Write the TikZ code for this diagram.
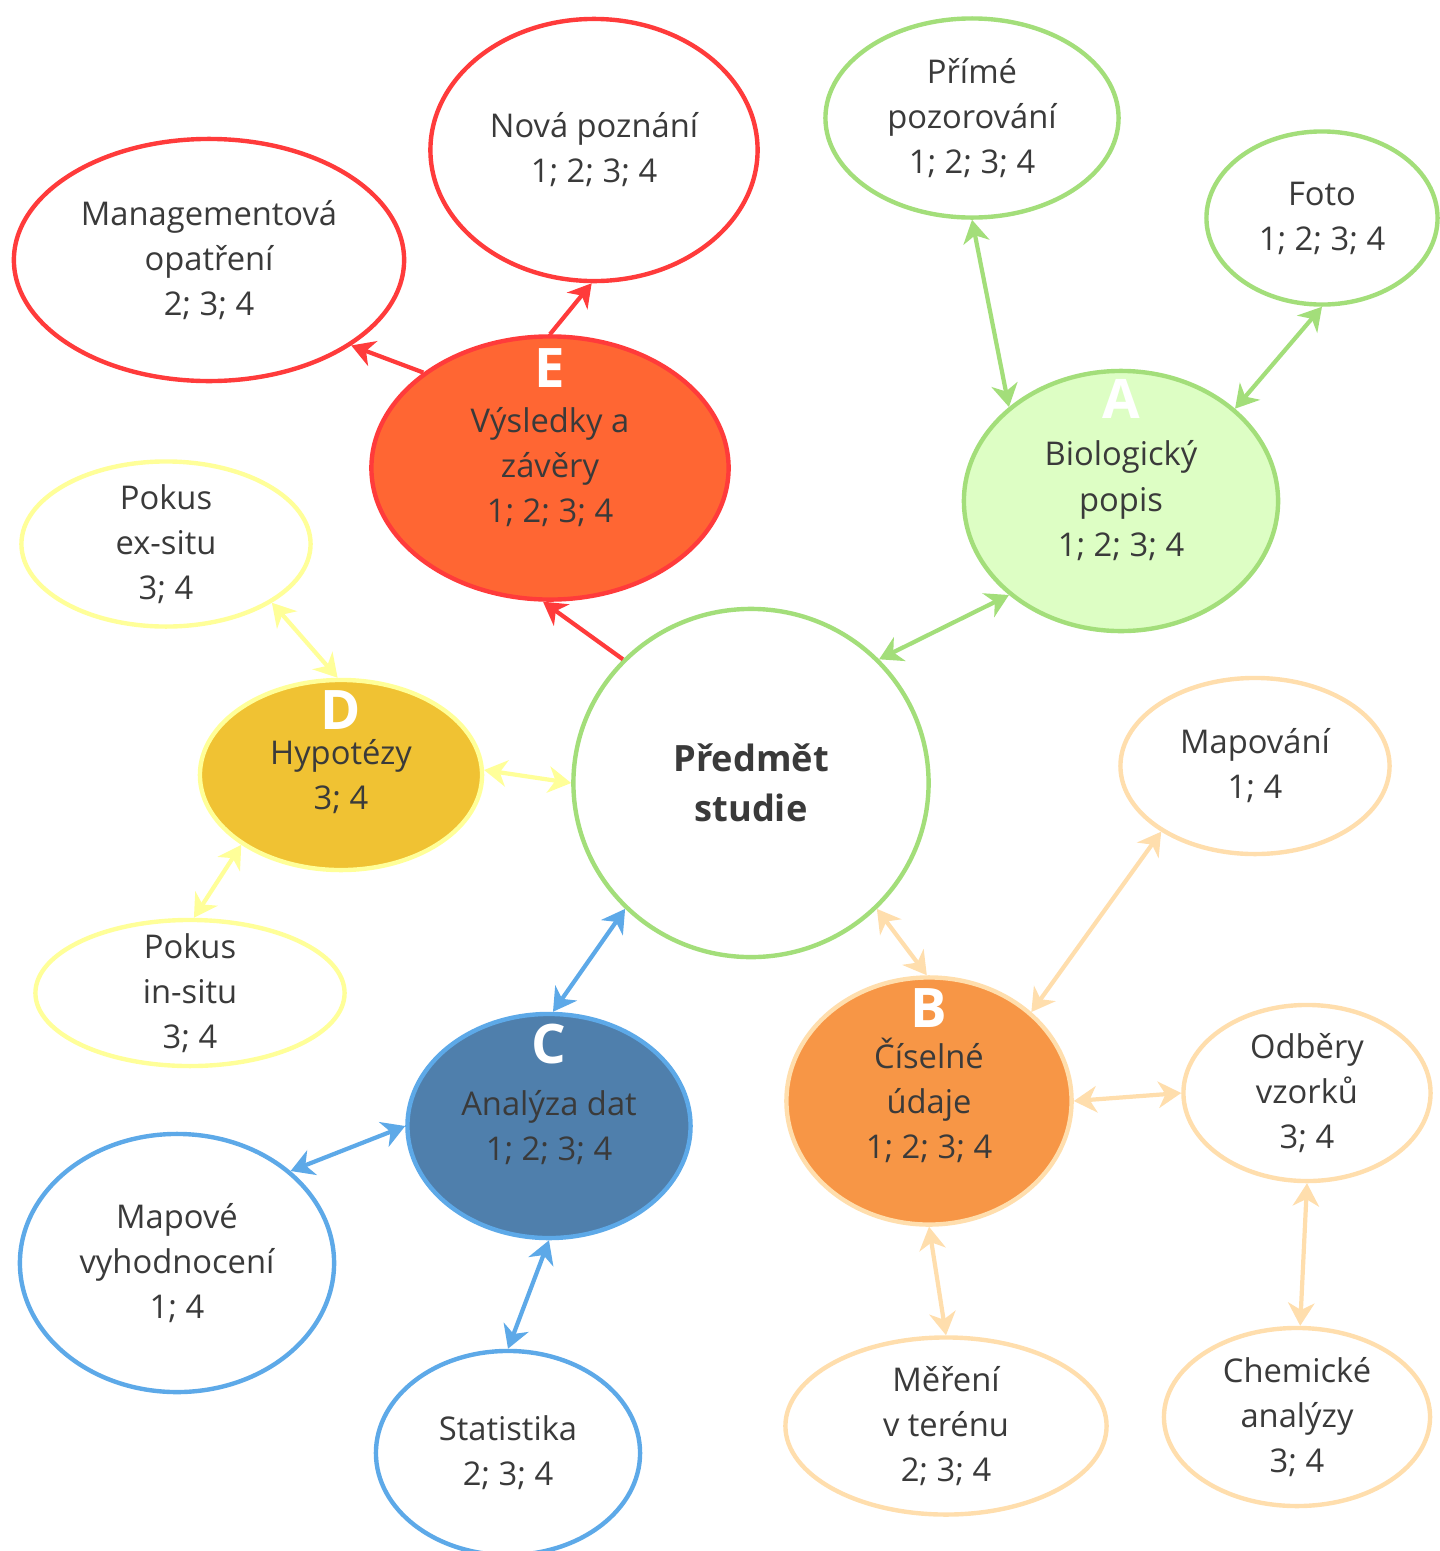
\documentclass[tikz,border=0pt]{standalone}
\usepackage{fontspec}
\setmainfont{Open Sans}
\usetikzlibrary{shapes.geometric,arrows.meta}

\definecolor{redline}{HTML}{FF3B3B}
\definecolor{redfill}{HTML}{FF6633}
\definecolor{greenline}{HTML}{A3DE7A}
\definecolor{greenfill}{HTML}{DDFEC4}
\definecolor{yellowline}{HTML}{FFFF99}
\definecolor{yellowfill}{HTML}{F0C233}
\definecolor{blueline}{HTML}{5DA9E8}
\definecolor{bluefill}{HTML}{4F7FAC}
\definecolor{peachline}{HTML}{FFDEAD}
\definecolor{peachfill}{HTML}{F79646}
\definecolor{textgrey}{HTML}{3A3A3A}

\newcommand{\bigletter}[1]{{\fontsize{15.5}{16}\selectfont\bfseries\color{white}#1}}

\tikzset{
  bubble/.style={ellipse, draw, line width=1.25pt, fill=white, inner sep=-30pt,
    align=center, text=textgrey, font=\fontsize{9.3}{12.8}\selectfont},
  lettertext/.style={inner sep=0pt, align=center, text=textgrey,
    font=\fontsize{9.3}{12.8}\selectfont},
  link/.style={line width=1.2pt},
}

\begin{document}
\begin{tikzpicture}[x=0.01cm, y=-0.01cm, >={Stealth[length=6.5pt,width=7.5pt,inset=2pt]}]
\useasboundingbox (0,0) rectangle (1440,1551);

% centre
\node[bubble, draw=greenline, minimum width=3.55cm, minimum height=3.48cm,
  font=\fontsize{10.3}{14.2}\selectfont\bfseries] (predmet) at (751,783) {Předmět\\studie};

% E
\node[bubble, draw=redline, fill=redfill, minimum width=3.57cm, minimum height=2.63cm] (vysledky) at (550,468) {};
\node[lettertext] (vysledkyT) at (550,438) {\bigletter{E}\\Výsledky a\\závěry\\1; 2; 3; 4};
\node[bubble, draw=redline, minimum width=3.27cm, minimum height=2.62cm] (novapoz) at (594,150) {Nová poznání\\1; 2; 3; 4};
\node[bubble, draw=redline, minimum width=3.90cm, minimum height=2.42cm] (management) at (209,260) {Managementová\\opatření\\2; 3; 4};

% A
\node[bubble, draw=greenline, fill=greenfill, minimum width=3.14cm, minimum height=2.60cm] (biolog) at (1121,501) {};
\node[lettertext] (biologT) at (1121,470) {\bigletter{A}\\[0.6pt]Biologický\\popis\\1; 2; 3; 4};
\node[bubble, draw=greenline, minimum width=2.93cm, minimum height=1.99cm] (prime) at (972,118) {Přímé\\pozorování\\1; 2; 3; 4};
\node[bubble, draw=greenline, minimum width=2.31cm, minimum height=1.73cm] (foto) at (1322,218) {Foto\\1; 2; 3; 4};

% D
\node[bubble, draw=yellowline, fill=yellowfill, minimum width=2.82cm, minimum height=1.90cm] (hypot) at (341,775) {};
\node[lettertext] (hypotT) at (341,752) {\bigletter{D}\\[-2.8pt]Hypotézy\\3; 4};
\node[bubble, draw=yellowline, minimum width=2.89cm, minimum height=1.65cm] (exsitu) at (166,544) {Pokus\\ex-situ\\3; 4};
\node[bubble, draw=yellowline, minimum width=3.09cm, minimum height=1.46cm] (insitu) at (190,993) {Pokus\\in-situ\\3; 4};

% C
\node[bubble, draw=blueline, fill=bluefill, minimum width=2.83cm, minimum height=2.24cm] (analyza) at (549,1126) {};
\node[lettertext] (analyzaT) at (549,1094) {\bigletter{C}\\[2pt]Analýza dat\\1; 2; 3; 4};
\node[bubble, draw=blueline, minimum width=3.14cm, minimum height=2.58cm] (mapove) at (177,1263) {Mapové\\vyhodnocení\\1; 4};
\node[bubble, draw=blueline, minimum width=2.64cm, minimum height=2.04cm] (statist) at (508,1453) {Statistika\\2; 3; 4};

% B
\node[bubble, draw=peachline, fill=peachfill, minimum width=2.85cm, minimum height=2.47cm] (ciselne) at (929,1101) {};
\node[lettertext] (ciselneT) at (929,1076) {\bigletter{B}\\[-1.1pt]Číselné\\údaje\\1; 2; 3; 4};
\node[bubble, draw=peachline, minimum width=2.69cm, minimum height=1.76cm] (mapovani) at (1255,766) {Mapování\\1; 4};
\node[bubble, draw=peachline, minimum width=2.47cm, minimum height=1.76cm] (odbery) at (1307,1093) {Odběry\\vzorků\\3; 4};
\node[bubble, draw=peachline, minimum width=3.21cm, minimum height=1.77cm] (mereni) at (946,1426) {Měření\\v terénu\\2; 3; 4};
\node[bubble, draw=peachline, minimum width=2.66cm, minimum height=1.78cm] (chemicke) at (1297,1417) {Chemické\\analýzy\\3; 4};

% connectors
\draw[link, redline, ->] (vysledky.90) -- (novapoz.269);
\draw[link, redline, ->] (vysledky.143) -- (management.329);
\draw[link, redline, ->] (predmet.136) -- (vysledky.267);

\draw[link, greenline, <->] (biolog.140) -- (prime.270);
\draw[link, greenline, <->] (biolog.39) -- (foto.270);
\draw[link, greenline, <->] (predmet.44) -- (biolog.220);

\draw[link, yellowline, <->] (predmet.180) -- (hypot.2);
\draw[link, yellowline, <->] (hypot.92) -- (exsitu.331);
\draw[link, yellowline, <->] (hypot.215) -- (insitu.87);

\draw[link, blueline, <->] (predmet.225) -- (analyza.88);
\draw[link, blueline, <->] (analyza.180) -- (mapove.39);
\draw[link, blueline, <->] (analyza.270) -- (statist.90);

\draw[link, peachline, <->] (predmet.315) -- (ciselne.91);
\draw[link, peachline, <->] (ciselne.41) -- (mapovani.215);
\draw[link, peachline, <->] (ciselne.0) -- (odbery.180);
\draw[link, peachline, <->] (ciselne.270) -- (mereni.90);
\draw[link, peachline, <->] (odbery.270) -- (chemicke.88);
\end{tikzpicture}
\end{document}
